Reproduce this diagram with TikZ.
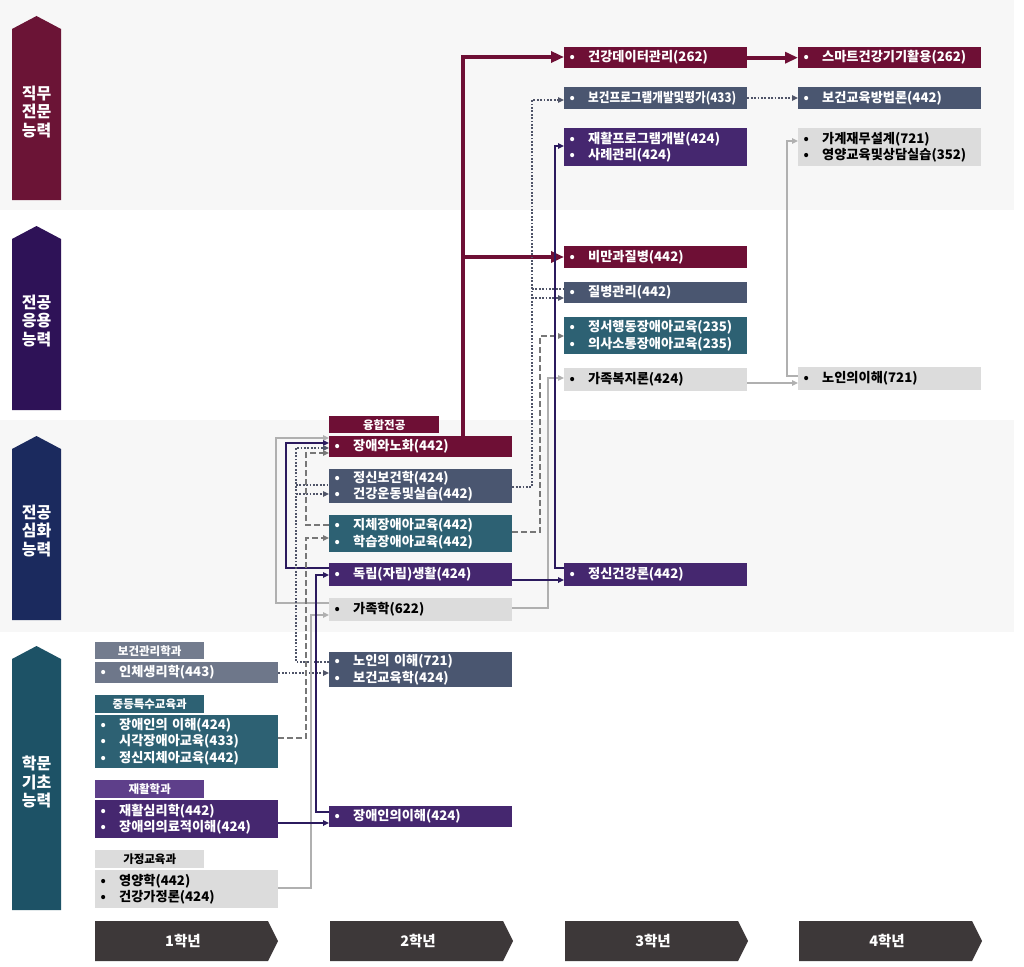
\documentclass[tikz,border=0pt]{standalone}
\usepackage{fontspec}
\setmainfont{Noto Sans CJK KR}
\usetikzlibrary{arrows.meta}
\definecolor{cMar}{HTML}{6E0F35}
\definecolor{cSlate}{HTML}{4A5670}
\definecolor{cTeal}{HTML}{2D6173}
\definecolor{cPur}{HTML}{45276F}
\definecolor{cLg}{HTML}{DCDCDC}
\definecolor{cBand}{HTML}{F7F7F7}
\definecolor{cAone}{HTML}{6B1436}
\definecolor{cAtwo}{HTML}{2E1257}
\definecolor{cAthree}{HTML}{1B2A5E}
\definecolor{cAfour}{HTML}{1D5266}
\definecolor{cLabA}{HTML}{737C8E}
\definecolor{cBoxA}{HTML}{6E778A}
\definecolor{cLabC}{HTML}{5E3F8A}
\definecolor{cYear}{HTML}{3D3839}
\definecolor{cLnDot}{HTML}{4F5468}
\definecolor{cLnDash}{HTML}{777777}
\definecolor{cLnGray}{HTML}{B0B0B0}
\definecolor{cLnPur}{HTML}{2B1A5E}
\newcommand\bl[1]{\hspace*{5.5pt}\makebox[18.5pt][l]{•}#1}
\begin{document}
\begin{tikzpicture}[x=1pt,y=-1pt,
  box/.style={anchor=north west, minimum width=183pt, text width=183pt, inner xsep=0pt, inner ysep=0pt,
    align=left, font=\bfseries\fontsize{13.2}{16.5}\selectfont, text=white},
  lab/.style={anchor=north west, minimum width=109pt, inner sep=0pt, font=\bfseries\fontsize{11.5}{13}\selectfont,
    text=white, align=center},
  side/.style={font=\bfseries\fontsize{16}{18.5}\selectfont, text=white, align=center},
  yr/.style={font=\bfseries\fontsize{14.5}{16}\selectfont, text=white},
  tip/.style={-{Triangle[length=6pt,width=5.5pt]}},
  bigtip/.style={-{Triangle[length=13pt,width=11pt]}},
  mline/.style={draw=cMar, line width=3.6pt},
  dline/.style={draw=cLnDot, line width=1.8pt, dash pattern=on 1.8pt off 1.6pt},
  ashline/.style={draw=cLnDash, line width=1.4pt, dash pattern=on 6pt off 3pt},
  gline/.style={draw=cLnGray, line width=1.9pt},
  pline/.style={draw=cLnPur, line width=1.9pt}]
\fill[white] (0,0) rectangle (1024,966);
\useasboundingbox (0,0) rectangle (1024,966);
\fill[cBand] (0,0) rectangle (1014,210);
\fill[cBand] (0,420) rectangle (1014,632);
% side arrows
\fill[cAone] (12,200) -- (12,29) -- (36.5,16) -- (61,29) -- (61,200) -- cycle;
\fill[cAtwo] (12,410) -- (12,239) -- (36.5,226) -- (61,239) -- (61,410) -- cycle;
\fill[cAthree] (12,620) -- (12,449) -- (36.5,436) -- (61,449) -- (61,620) -- cycle;
\fill[cAfour] (12,910) -- (12,659) -- (36.5,646) -- (61,659) -- (61,910) -- cycle;
\node[side] (s1) at (36.5,112) {직무\\전문\\능력};
\node[side] (s2) at (36.5,321) {전공\\응용\\능력};
\node[side] (s3) at (36.5,531) {전공\\심화\\능력};
\node[side] (s4) at (36.5,782) {학문\\기초\\능력};
% year chevrons
\foreach \x/\t [count=\i] in {95/1학년,330/2학년,565/3학년,799/4학년}{
  \fill[cYear] (\x,921) -- (\x+173,921) -- (\x+183,941) -- (\x+173,961) -- (\x,961) -- cycle;
  \node[yr] (y\i) at (\x+88,941) {\t};
}
% year 1
\node[lab, fill=cLabA] (l1) at (95,642) [minimum height=17pt] {보건관리학과};
\node[box, fill=cBoxA, minimum height=21pt] (in) at (95,662) {\bl{인체생리학(443)}};
\node[lab, fill=cTeal] (l2) at (95,695) [minimum height=18pt] {중등특수교육과};
\node[box, fill=cTeal, minimum height=53pt] (jung) at (95,715) {\bl{장애인의 이해(424)}\\\bl{시각장애아교육(433)}\\\bl{정신지체아교육(442)}};
\node[lab, fill=cLabC] (l3) at (95,780) [minimum height=18pt] {재활학과};
\node[box, fill=cPur, minimum height=38pt] (jae) at (95,800) {\bl{재활심리학(442)}\\\bl{장애의의료적이해(424)}};
\node[lab, fill=cLg, text=black] (l4) at (95,850) [minimum height=18pt] {가정교육과};
\node[box, fill=cLg, text=black, minimum height=38pt] (ga) at (95,870) {\bl{영양학(442)}\\\bl{건강가정론(424)}};
% year 2
\node[lab, fill=cMar, minimum width=110pt] (l5) at (329,416) [minimum height=17pt] {융합전공};
\node[box, fill=cMar, minimum height=21pt] (jangae) at (329,436) {\bl{장애와노화(442)}};
\node[box, fill=cSlate, minimum height=34pt] (jeongsin) at (329,469) {\bl{정신보건학(424)}\\\bl{건강운동및실습(442)}};
\node[box, fill=cTeal, minimum height=37pt] (jiche) at (329,515) {\bl{지체장애아교육(442)}\\\bl{학습장애아교육(442)}};
\node[box, fill=cPur, minimum height=23pt] (dongnip) at (329,563) {\bl{독립(자립)생활(424)}};
\node[box, fill=cLg, text=black, minimum height=23pt] (gajok) at (329,598) {\bl{가족학(622)}};
\node[box, fill=cSlate, minimum height=35pt] (noin2) at (329,652) {\bl{노인의 이해(721)}\\\bl{보건교육학(424)}};
\node[box, fill=cPur, minimum height=21pt] (jangaein2) at (329,806) {\bl{장애인의이해(424)}};
% year 3
\node[box, fill=cMar, minimum height=21pt] (data) at (564,47) {\bl{건강데이터관리(262)}};
\node[box, fill=cSlate, minimum height=22pt] (bogeonpro) at (564,87) {\bl{\scalebox{0.88}[1]{보건프로그램개발및평가(433)}}};
\node[box, fill=cPur, minimum height=38pt] (jaehwal) at (564,128) {\bl{재활프로그램개발(424)}\\\bl{사례관리(424)}};
\node[box, fill=cMar, minimum height=22pt] (biman) at (564,246) {\bl{비만과질병(442)}};
\node[box, fill=cSlate, minimum height=21pt] (jilbyeong) at (564,282) {\bl{질병관리(442)}};
\node[box, fill=cTeal, minimum height=37pt] (jeongseo) at (564,317) {\bl{정서행동장애아교육(235)}\\\bl{의사소통장애아교육(235)}};
\node[box, fill=cLg, text=black, minimum height=23pt] (gajokbokji) at (564,368) {\bl{가족복지론(424)}};
\node[box, fill=cPur, minimum height=23pt] (jeongsingeon) at (564,563) {\bl{정신건강론(442)}};
% year 4
\node[box, fill=cMar, minimum height=21pt] (smart) at (798,47) {\bl{스마트건강기기활용(262)}};
\node[box, fill=cSlate, minimum height=22pt] (bogeonedu) at (798,87) {\bl{보건교육방법론(442)}};
\node[box, fill=cLg, text=black, minimum height=38pt] (gagye) at (798,128) {\bl{가계재무설계(721)}\\\bl{영양교육및상담실습(352)}};
\node[box, fill=cLg, text=black, minimum height=23pt] (noin4) at (798,367) {\bl{노인의이해(721)}};
% connectors right part
\draw[mline, bigtip] (jangae.north -| 463,0) -- (463,57) -- (data.west |- 0,57);
\draw[mline, bigtip] (463,257) -- (biman.west |- 0,257);
\draw[mline, bigtip] (data.east) -- (smart.west);
\draw[dline, tip] (bogeonpro.east |- 0,98) -- (bogeonedu.west |- 0,98);
\draw[dline, tip] (jeongsin.east |- 0,487) -- (532,487) -- (532,100) -- (bogeonpro.west |- 0,100);
\draw[dline, tip] (532,298) -- (jilbyeong.west |- 0,298);
\draw[dline] (532,289) -- (jilbyeong.west |- 0,289);
\draw[ashline, tip] (jiche.east |- 0,532) -- (540,532) -- (540,336) -- (jeongseo.west |- 0,336);
\draw[gline, tip] (gajok.east |- 0,608) -- (548,608) -- (548,378) -- (gajokbokji.west |- 0,378);
\draw[pline, tip] (dongnip.east |- 0,580) -- (jeongsingeon.west |- 0,580);
\draw[pline, tip] (jeongsingeon.west |- 0,568) -- (555,568) -- (555,146) -- (jaehwal.west |- 0,146);
\draw[gline, tip] (gajokbokji.east |- 0,383) -- (noin4.west |- 0,383);
\draw[gline, tip] (noin4.west |- 0,376) -- (787,376) -- (787,141) -- (gagye.west |- 0,141);
% connectors left part
\draw[gline, tip] (gajok.west |- 0,603) -- (276,603) -- (276,438) -- (jangae.west |- 0,438);
\draw[pline, tip] (dongnip.west |- 0,568) -- (286,568) -- (286,443) -- (jangae.west |- 0,443);
\draw[dline, tip] (noin2.west |- 0,662) -- (296,662) -- (296,448) -- (jangae.west |- 0,448);
\draw[dline, tip] (296,494) -- (jeongsin.west |- 0,494);
\draw[dline] (296,485) -- (jeongsin.west |- 0,485);
\draw[dline, tip] (in.east |- 0,673) -- (noin2.west |- 0,673);
\draw[ashline, tip] (jiche.west |- 0,525) -- (306,525) -- (306,453) -- (jangae.west |- 0,453);
\draw[ashline, tip] (jung.east |- 0,738) -- (306,738) -- (306,538) -- (jiche.west |- 0,538);
\draw[gline, tip] (ga.east |- 0,888) -- (311,888) -- (311,615) -- (gajok.west |- 0,615);
\draw[pline, tip] (jangaein2.west |- 0,812) -- (316,812) -- (316,575) -- (dongnip.west |- 0,575);
\draw[pline, tip] (jae.east |- 0,823) -- (jangaein2.west |- 0,823);
\end{tikzpicture}
\end{document}
